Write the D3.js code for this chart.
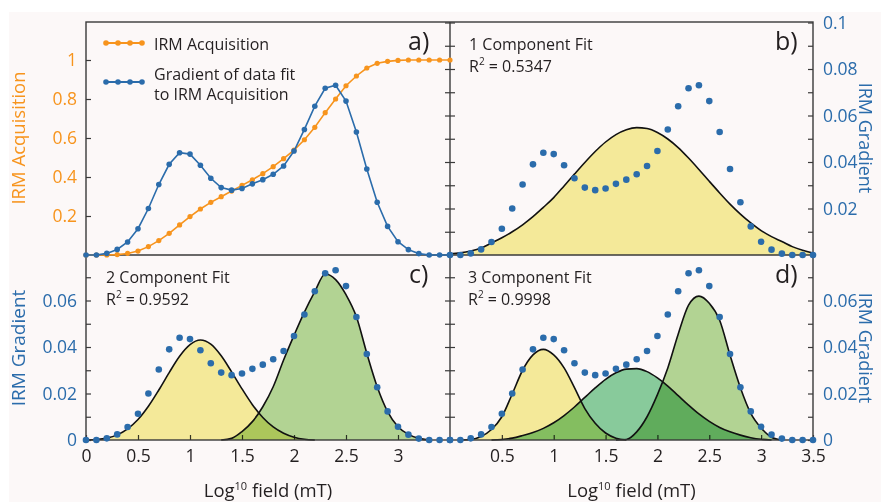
<!DOCTYPE html>
<html><head><meta charset="utf-8">
<script src="https://cdn.jsdelivr.net/npm/d3@7"></script>
<style>
html,body{margin:0;padding:0;background:#fff;}
svg{display:block;font-family:"Open Sans",sans-serif;}
</style></head><body>
<svg id="chart" width="881" height="502"></svg>
<script>
// Log10 of applied field (mT) at each measurement step
const fieldLog = [0,0.1,0.2,0.3,0.4,0.5,0.6,0.7,0.8,0.9,1.0,1.1,1.2,1.3,1.4,1.5,1.6,1.7,1.8,1.9,2.0,2.1,2.2,2.3,2.4,2.5,2.6,2.7,2.8,2.9,3.0,3.1,3.2,3.3,3.4,3.5];
// Normalised IRM acquisition curve
const irmAcquisition = [0,0,0,0.002,0.008,0.02,0.043,0.074,0.111,0.154,0.197,0.236,0.27,0.299,0.328,0.357,0.386,0.417,0.453,0.494,0.538,0.591,0.655,0.73,0.80,0.868,0.918,0.959,0.983,0.993,0.998,1,1,1,1,1];
// Gradient of the acquisition curve
const irmGradient = [0,0,0.0007,0.0024,0.0056,0.0113,0.0200,0.0303,0.0390,0.0440,0.0434,0.0386,0.0330,0.0290,0.0279,0.0286,0.0306,0.0324,0.0347,0.0383,0.0447,0.0540,0.0640,0.0717,0.0730,0.0662,0.0529,0.0370,0.0227,0.0123,0.0057,0.0023,0.0006,0,0,0];
// Fitted coercivity components
const fit1 = [0.0005,0.0009,0.0017,0.0030,0.0052,0.0074,0.0100,0.0130,0.0165,0.0205,0.0247,0.0297,0.0348,0.0398,0.0445,0.0486,0.0518,0.0539,0.0548,0.0544,0.0527,0.0499,0.0462,0.0417,0.0368,0.0317,0.0267,0.0219,0.0176,0.0138,0.0105,0.0079,0.0058,0.0036,0.0020,0.0008];
const fit2a = [0,0.0002,0.0008,0.0022,0.0048,0.0088,0.0145,0.0215,0.0290,0.0360,0.0410,0.0430,0.0412,0.0362,0.0293,0.0220,0.0152,0.0097,0.0056,0.0029,0.0012,0.0003,0,0,0,0,0,0,0,0,0,0,0,0,0,0];
const fit2b = [0,0,0,0,0,0,0,0,0,0,0,0,0,0,0.0007,0.0036,0.0079,0.0143,0.0229,0.0344,0.0450,0.0550,0.0638,0.0714,0.0690,0.0625,0.0530,0.0373,0.0229,0.0122,0.0057,0.0024,0.0007,0,0,0];
const fit3a = [0,0,0.0002,0.0015,0.0045,0.0100,0.0198,0.0300,0.0366,0.0390,0.0366,0.0310,0.0225,0.0135,0.0072,0.0030,0.0008,0,0,0,0,0,0,0,0,0,0,0,0,0,0,0,0,0,0,0];
const fit3b = [0,0,0,0,0,0.0002,0.0008,0.0019,0.0032,0.0050,0.0074,0.0105,0.0142,0.0183,0.0224,0.0261,0.0289,0.0305,0.0307,0.0294,0.0267,0.0232,0.0191,0.0150,0.0112,0.0080,0.0054,0.0035,0.0021,0.0010,0.0003,0,0,0,0,0];
const fit3c = [0,0,0,0,0,0,0,0,0,0,0,0,0,0,0,0,0,0.0002,0.0035,0.0100,0.0195,0.0310,0.0455,0.0580,0.0619,0.0588,0.0515,0.0365,0.0225,0.0115,0.0052,0.0012,0,0,0,0];
// Tick values
const irmTicks = [0.2,0.4,0.6,0.8,1];
const gradTopTicks = [0.01,0.02,0.03,0.04,0.05,0.06,0.07,0.08,0.09,0.1];
const gradTopLabels = [0.02,0.04,0.06,0.08,0.1];
const gradBotTicks = [0,0.01,0.02,0.03,0.04,0.05,0.06,0.07];
const gradBotLabels = [0,0.02,0.04,0.06];
const fieldTicksLeft = [0,0.5,1,1.5,2,2.5,3];
const fieldTicksRight = [0.5,1,1.5,2,2.5,3,3.5];
const fitNames = ["1 Component Fit","2 Component Fit","3 Component Fit"];
const fitR2 = ["0.5347","0.9592","0.9998"];

const ORANGE = "#f7941d", BLUE = "#2b6cab", INK = "#231f20", FRAME = "#3a3a3a";
const W = 881, H = 502;
const L = 86, MID = 450, R = 813, T = 22, HM = 255, B = 440;

const svg = d3.select("#chart");
svg.append("rect").attr("x", 9).attr("y", 12).attr("width", W - 9).attr("height", H - 12).attr("fill", "#fcf8f8");

const xLeft = d3.scaleLinear().domain([0, 3.5]).range([L, MID]);
const xRight = d3.scaleLinear().domain([0, 3.5]).range([MID, R]);
const yIrm = d3.scaleLinear().domain([0, 1.2]).range([HM, T - 1]);
const yGradTop = d3.scaleLinear().domain([0, 0.1]).range([HM, T + 0.5]);
const yGradBot = d3.scaleLinear().domain([0, 0.08]).range([B, B - 0.08 * 2325]);

const fmt = v => String(+v.toFixed(2));

function styleAxis(g, color, size) {
  g.attr("font-size", null).attr("font-family", null);
  g.select(".domain").remove();
  g.selectAll(".tick line").attr("stroke", FRAME).attr("stroke-width", 1.2);
  g.selectAll(".tick text").attr("fill", color).style("font-size", size + "px");
}

function labelOnly(list) { return v => list.some(t => Math.abs(t - v) < 1e-9) ? fmt(v) : ""; }

// ---- axes ----
// Panel a left (IRM acquisition)
svg.append("g").attr("transform", `translate(${L},0)`)
  .call(d3.axisLeft(yIrm).tickValues(irmTicks).tickSizeInner(-5).tickSizeOuter(0).tickPadding(9).tickFormat(fmt))
  .call(g => styleAxis(g, ORANGE, 17.5));
// Panel c left (gradient)
svg.append("g").attr("transform", `translate(${L},0)`)
  .call(d3.axisLeft(yGradBot).tickValues(gradBotTicks).tickSizeInner(-5).tickSizeOuter(0).tickPadding(9).tickFormat(labelOnly(gradBotLabels)))
  .call(g => styleAxis(g, BLUE, 17.5));
// Panel b right (gradient)
svg.append("g").attr("transform", `translate(${R},0)`)
  .call(d3.axisRight(yGradTop).tickValues(gradTopTicks).tickSizeInner(-5).tickSizeOuter(0).tickPadding(10).tickFormat(labelOnly(gradTopLabels)))
  .call(g => styleAxis(g, BLUE, 17.5));
// Panel d right (gradient)
svg.append("g").attr("transform", `translate(${R},0)`)
  .call(d3.axisRight(yGradBot).tickValues(gradBotTicks).tickSizeInner(-5).tickSizeOuter(0).tickPadding(10).tickFormat(labelOnly(gradBotLabels)))
  .call(g => styleAxis(g, BLUE, 17.5));
// Ticks on both sides of the centre divider
[[yGradTop, gradTopTicks], [yGradBot, gradBotTicks.slice(1)]].forEach(([sc, tv]) => {
  svg.append("g").attr("transform", `translate(${MID},0)`)
    .call(d3.axisLeft(sc).tickValues(tv).tickSizeInner(5).tickSizeOuter(0).tickFormat(""))
    .call(g => styleAxis(g, BLUE, 10));
  svg.append("g").attr("transform", `translate(${MID},0)`)
    .call(d3.axisRight(sc).tickValues(tv).tickSizeInner(5).tickSizeOuter(0).tickFormat(""))
    .call(g => styleAxis(g, BLUE, 10));
});
// Bottom field axes
svg.append("g").attr("transform", `translate(0,${B})`)
  .call(d3.axisBottom(xLeft).tickValues(fieldTicksLeft).tickSizeInner(-5).tickSizeOuter(0).tickPadding(10).tickFormat(fmt))
  .call(g => styleAxis(g, INK, 17.5));
svg.append("g").attr("transform", `translate(0,${B})`)
  .call(d3.axisBottom(xRight).tickValues(fieldTicksRight).tickSizeInner(-5).tickSizeOuter(0).tickPadding(10).tickFormat(fmt))
  .call(g => styleAxis(g, INK, 17.5));

// ---- fitted components ----
function trimmed(vals) {
  const i0 = Math.max(0, vals.findIndex(v => v > 0) - 1);
  let i1 = vals.length - 1;
  while (i1 > 0 && vals[i1] <= 0) i1--;
  i1 = Math.min(vals.length - 1, i1 + 1);
  return d3.range(i0, i1 + 1).map(i => ({ f: fieldLog[i], v: vals[i] }));
}
function drawComponent(vals, xs, ys, fill) {
  const pts = trimmed(vals);
  svg.append("path").datum(pts)
    .attr("d", d3.area().x(d => xs(d.f)).y0(ys(0)).y1(d => ys(d.v)).curve(d3.curveMonotoneX))
    .attr("fill", fill).style("mix-blend-mode", "multiply");
}
function drawOutline(vals, xs, ys) {
  svg.append("path").datum(trimmed(vals))
    .attr("d", d3.line().x(d => xs(d.f)).y(d => ys(d.v)).curve(d3.curveMonotoneX))
    .attr("fill", "none").attr("stroke", "#111").attr("stroke-width", 1.6);
}
const YELLOW = "#f7f09d", GREEN_L = "#b4d997", GREEN_M = "#8ad0a0";
drawComponent(fit1, xRight, yGradTop, YELLOW);
drawComponent(fit2a, xLeft, yGradBot, YELLOW);
drawComponent(fit2b, xLeft, yGradBot, GREEN_L);
drawComponent(fit3a, xRight, yGradBot, YELLOW);
drawComponent(fit3b, xRight, yGradBot, GREEN_M);
drawComponent(fit3c, xRight, yGradBot, GREEN_L);
drawOutline(fit1, xRight, yGradTop);
drawOutline(fit2a, xLeft, yGradBot);
drawOutline(fit2b, xLeft, yGradBot);
drawOutline(fit3a, xRight, yGradBot);
drawOutline(fit3b, xRight, yGradBot);
drawOutline(fit3c, xRight, yGradBot);

// ---- frame ----
svg.append("rect").attr("x", L).attr("y", T).attr("width", R - L).attr("height", B - T)
  .attr("fill", "none").attr("stroke", FRAME).attr("stroke-width", 1.4);
svg.append("line").attr("x1", MID).attr("x2", MID).attr("y1", T).attr("y2", B).attr("stroke", FRAME).attr("stroke-width", 1.4);
svg.append("line").attr("x1", L).attr("x2", R).attr("y1", HM).attr("y2", HM).attr("stroke", FRAME).attr("stroke-width", 1.4);

// ---- data points ----
const pts = fieldLog.map((f, i) => ({ f, irm: irmAcquisition[i], g: irmGradient[i] }));
// Panel a: acquisition curve and its gradient
svg.append("path").datum(pts).attr("d", d3.line().x(d => xLeft(d.f)).y(d => yIrm(d.irm)))
  .attr("fill", "none").attr("stroke", ORANGE).attr("stroke-width", 1.6);
svg.append("g").selectAll("circle").data(pts).join("circle")
  .attr("cx", d => xLeft(d.f)).attr("cy", d => yIrm(d.irm)).attr("r", 2.6).attr("fill", ORANGE);
svg.append("path").datum(pts).attr("d", d3.line().x(d => xLeft(d.f)).y(d => yGradTop(d.g)))
  .attr("fill", "none").attr("stroke", BLUE).attr("stroke-width", 1.6);
svg.append("g").selectAll("circle").data(pts).join("circle")
  .attr("cx", d => xLeft(d.f)).attr("cy", d => yGradTop(d.g)).attr("r", 2.8).attr("fill", BLUE);
// Panels b, c, d: gradient points over the fits
[[xRight, yGradTop], [xLeft, yGradBot], [xRight, yGradBot]].forEach(([xs, ys]) => {
  svg.append("g").selectAll("circle").data(pts).join("circle")
    .attr("cx", d => xs(d.f)).attr("cy", d => ys(d.g)).attr("r", 3.3).attr("fill", BLUE);
});

// ---- legend (panel a) ----
[[ORANGE, 43], [BLUE, 82]].forEach(([c, y]) => {
  svg.append("line").attr("x1", 106).attr("x2", 142).attr("y1", y).attr("y2", y).attr("stroke", c).attr("stroke-width", 1.8);
  svg.append("g").selectAll("circle").data([106, 118, 130, 142]).join("circle")
    .attr("cx", d => d).attr("cy", y).attr("r", 2.8).attr("fill", c);
});
const legText = svg.append("g").attr("fill", INK).style("font-size", "16px");
legText.append("text").attr("x", 154).attr("y", 49.5).text("IRM Acquisition");
legText.append("text").attr("x", 154).attr("y", 79.5).text("Gradient of data fit");
legText.append("text").attr("x", 154).attr("y", 99.5).text("to IRM Acquisition");

// ---- panel letters ----
[["a)", 408, 50], ["b)", 775, 50], ["c)", 409, 283], ["d)", 775, 283]].forEach(([t, x, y]) => {
  svg.append("text").attr("x", x).attr("y", y).attr("fill", INK).style("font-size", "25px").text(t);
});

// ---- fit annotations ----
[[469, 49.5], [106, 283], [468, 283]].forEach(([x, y], i) => {
  const g = svg.append("g").attr("fill", INK).style("font-size", "16px");
  g.append("text").attr("x", x).attr("y", y).text(fitNames[i]);
  const r = g.append("text").attr("x", x).attr("y", y + 22);
  r.append("tspan").text("R");
  r.append("tspan").attr("dy", -7).style("font-size", "10px").text("2");
  r.append("tspan").attr("dy", 7).text(" = " + fitR2[i]);
});

// ---- axis titles ----
svg.append("text").attr("transform", "translate(25,138) rotate(-90)").attr("text-anchor", "middle")
  .attr("fill", ORANGE).style("font-size", "18.5px").text("IRM Acquisition");
svg.append("text").attr("transform", "translate(25,348) rotate(-90)").attr("text-anchor", "middle")
  .attr("fill", BLUE).style("font-size", "19px").text("IRM Gradient");
[138, 348].forEach(y => {
  svg.append("text").attr("transform", `translate(859,${y}) rotate(90)`).attr("text-anchor", "middle")
    .attr("fill", BLUE).style("font-size", "18px").text("IRM Gradient");
});
[(L + MID) / 2, (MID + R) / 2].forEach(cx => {
  const t = svg.append("text").attr("x", cx).attr("y", 497).attr("text-anchor", "middle")
    .attr("fill", INK).style("font-size", "18.5px");
  t.append("tspan").text("Log");
  t.append("tspan").attr("dy", -7).style("font-size", "11px").text("10");
  t.append("tspan").attr("dy", 7).text(" field (mT)");
});
</script>
</body></html>
